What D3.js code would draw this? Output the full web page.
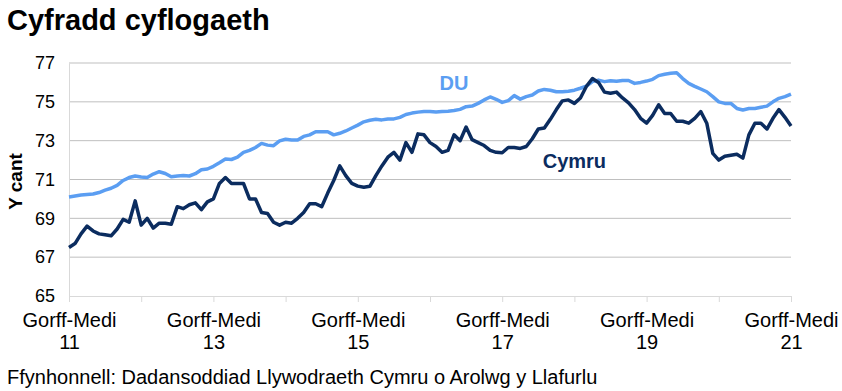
<!DOCTYPE html>
<html>
<head>
<meta charset="utf-8">
<script src="https://cdn.jsdelivr.net/npm/d3@7"></script>
<style>
  body { margin: 0; background: #fff; }
  text { font-family: "Liberation Sans", Arial, sans-serif; }
</style>
</head>
<body>
<div id="chart"></div>
<script>
// Welsh month abbreviations, used to build the rolling-quarter categories
const monthsCy = ["Ion", "Chwef", "Maw", "Ebr", "Mai", "Meh", "Gorff", "Awst", "Medi", "Hyd", "Tach", "Rhag"];

// Gorff-Medi 2011 ... Gorff-Medi 2021, one rolling quarter per month
const periods = d3.range(121).map(i => {
    const m = 6 + i;
    return `${monthsCy[m % 12]}-${monthsCy[(m + 2) % 12]} ${11 + Math.floor((m + 2) / 12)}`;
});

// Employment rate (%)
const cymru = [
    67.5, 67.7, 68.2, 68.6, 68.35, 68.2, 68.15, 68.1, 68.45, 68.95,
    68.8, 69.9, 68.65, 69.0, 68.5, 68.75, 68.75, 68.7, 69.6, 69.5,
    69.7, 69.8, 69.45, 69.85, 70.0, 70.8, 71.1, 70.8, 70.8, 70.8,
    70.0, 70.0, 69.3, 69.25, 68.8, 68.65, 68.8, 68.75, 69.0, 69.3,
    69.75, 69.75, 69.6, 70.3, 70.95, 71.7, 71.2, 70.8, 70.66, 70.6,
    70.65, 71.2, 71.7, 72.15, 72.4, 72.0, 72.9, 72.4, 73.35, 73.3,
    72.9, 72.7, 72.4, 72.5, 73.3, 73.0, 73.7, 73.05, 72.9, 72.75,
    72.5, 72.4, 72.38, 72.65, 72.65, 72.6, 72.7, 73.1, 73.6, 73.65,
    74.1, 74.6, 75.05, 75.1, 74.92, 75.2, 75.8, 76.2, 76.0, 75.5,
    75.44, 75.5, 75.2, 74.95, 74.6, 74.15, 73.9, 74.3, 74.85, 74.4,
    74.4, 74.0, 74.0, 73.9, 74.15, 74.5, 73.9, 72.35, 72.0, 72.2,
    72.25, 72.3, 72.1, 73.3, 73.9, 73.9, 73.6, 74.15, 74.6, 74.2,
    73.75
];

const du = [
    70.1, 70.15, 70.2, 70.23, 70.25, 70.33, 70.45, 70.55, 70.7, 70.95,
    71.1, 71.18, 71.13, 71.1, 71.28, 71.4, 71.31, 71.14, 71.18, 71.2,
    71.18, 71.3, 71.5, 71.54, 71.68, 71.86, 72.05, 72.03, 72.15, 72.4,
    72.5, 72.65, 72.86, 72.77, 72.74, 72.99, 73.07, 73.03, 73.03, 73.22,
    73.3, 73.46, 73.46, 73.46, 73.3, 73.38, 73.5, 73.65, 73.8, 73.97,
    74.05, 74.1, 74.07, 74.12, 74.12, 74.2, 74.35, 74.42, 74.47, 74.5,
    74.5, 74.48, 74.5, 74.52, 74.55, 74.61, 74.75, 74.78, 74.92, 75.1,
    75.25, 75.13, 74.97, 75.06, 75.32, 75.14, 75.27, 75.35, 75.56, 75.64,
    75.6, 75.52, 75.52, 75.55, 75.6, 75.7, 75.81, 76.04, 76.12, 76.04,
    76.09, 76.06, 76.1, 76.1, 75.95, 76.0, 76.07, 76.16, 76.35, 76.42,
    76.47, 76.5, 76.2, 75.95, 75.8, 75.66, 75.52, 75.27, 75.0, 74.92,
    74.92, 74.66, 74.58, 74.66, 74.66, 74.72, 74.78, 75.0, 75.18, 75.27,
    75.4
];

const yTicks = [65, 67, 69, 71, 73, 75, 77];
const labelEvery = 24;   // "Gorff-Medi" label every two years
const tickEvery = 12;    // tick mark every year

const W = 842, H = 391;
const margin = { top: 63, right: 51, bottom: 95, left: 69 };
const width = W - margin.left - margin.right;
const height = H - margin.top - margin.bottom;

const colDU = "#5b9ef2";
const colCymru = "#0b2c5f";
const gridCol = "#bfbfbf";
const font = '"Liberation Sans", Arial, sans-serif';

const svg = d3.select("#chart")
    .append("svg")
    .attr("width", W)
    .attr("height", H);

// Title
svg.append("text")
    .attr("x", 7)
    .attr("y", 30)
    .style("font-size", "29px")
    .style("font-weight", "700")
    .style("fill", "#000")
    .text("Cyfradd cyflogaeth");

const g = svg.append("g")
    .attr("transform", `translate(${margin.left},${margin.top})`);

const x = d3.scalePoint()
    .domain(periods)
    .range([0, width]);

const y = d3.scaleLinear()
    .domain([65, 77])
    .range([height, 0]);

// Gridlines
g.append("g")
    .selectAll("line")
    .data(yTicks.slice(1))
    .enter()
    .append("line")
    .attr("x1", 0)
    .attr("x2", width)
    .attr("y1", d => y(d))
    .attr("y2", d => y(d))
    .attr("stroke", gridCol)
    .attr("stroke-width", 1);

// Y axis
const yAxis = g.append("g")
    .call(d3.axisLeft(y).tickValues(yTicks).tickSize(0).tickPadding(14));
yAxis.select(".domain").attr("stroke", "#d9d9d9");
yAxis.selectAll("text")
    .style("font-size", "18px")
    .style("fill", "#000")
    .style("font-family", font);

// X axis
const xAxis = g.append("g")
    .attr("transform", `translate(0,${height})`)
    .call(d3.axisBottom(x)
        .tickValues(periods.filter((p, i) => i % tickEvery === 0))
        .tickSize(6)
        .tickSizeOuter(0)
        .tickFormat(p => periods.indexOf(p) % labelEvery === 0 ? p : ""));
xAxis.select(".domain").attr("stroke", "#d9d9d9");
xAxis.selectAll(".tick line").attr("stroke", "#d9d9d9");
xAxis.selectAll(".tick text").each(function () {
    const t = d3.select(this);
    const parts = t.text().split(" ");
    t.text(null)
        .attr("y", 0)
        .attr("dy", null)
        .style("font-size", "20px")
        .style("fill", "#000")
        .style("font-family", font);
    if (parts.length < 2) return;
    t.append("tspan").attr("x", 0).attr("y", 31).text(parts[0]);
    t.append("tspan").attr("x", 0).attr("y", 53).text(parts[1]);
});

// Y axis title
svg.append("text")
    .attr("transform", `translate(22,${margin.top + height / 2 + 2}) rotate(-90)`)
    .attr("text-anchor", "middle")
    .style("font-size", "19px")
    .style("font-weight", "700")
    .style("fill", "#000")
    .text("Y cant");

// Lines
const line = d3.line()
    .x((d, i) => x(periods[i]))
    .y(d => y(d));

g.append("path")
    .datum(du)
    .attr("fill", "none")
    .attr("stroke", colDU)
    .attr("stroke-width", 3.5)
    .attr("stroke-linejoin", "round")
    .attr("d", line);

g.append("path")
    .datum(cymru)
    .attr("fill", "none")
    .attr("stroke", colCymru)
    .attr("stroke-width", 3.5)
    .attr("stroke-linejoin", "round")
    .attr("d", line);

// Series labels
g.append("text")
    .attr("x", x(periods[64]))
    .attr("y", y(75.6))
    .attr("text-anchor", "middle")
    .style("font-size", "20px")
    .style("font-weight", "700")
    .style("fill", colDU)
    .text("DU");

g.append("text")
    .attr("x", x(periods[84]))
    .attr("y", y(71.6))
    .attr("text-anchor", "middle")
    .style("font-size", "20px")
    .style("font-weight", "700")
    .style("fill", colCymru)
    .text("Cymru");

// Source
svg.append("text")
    .attr("x", 7)
    .attr("y", 384)
    .style("font-size", "20px")
    .style("fill", "#000")
    .text("Ffynhonnell: Dadansoddiad Llywodraeth Cymru o Arolwg y Llafurlu");
</script>
</body>
</html>
